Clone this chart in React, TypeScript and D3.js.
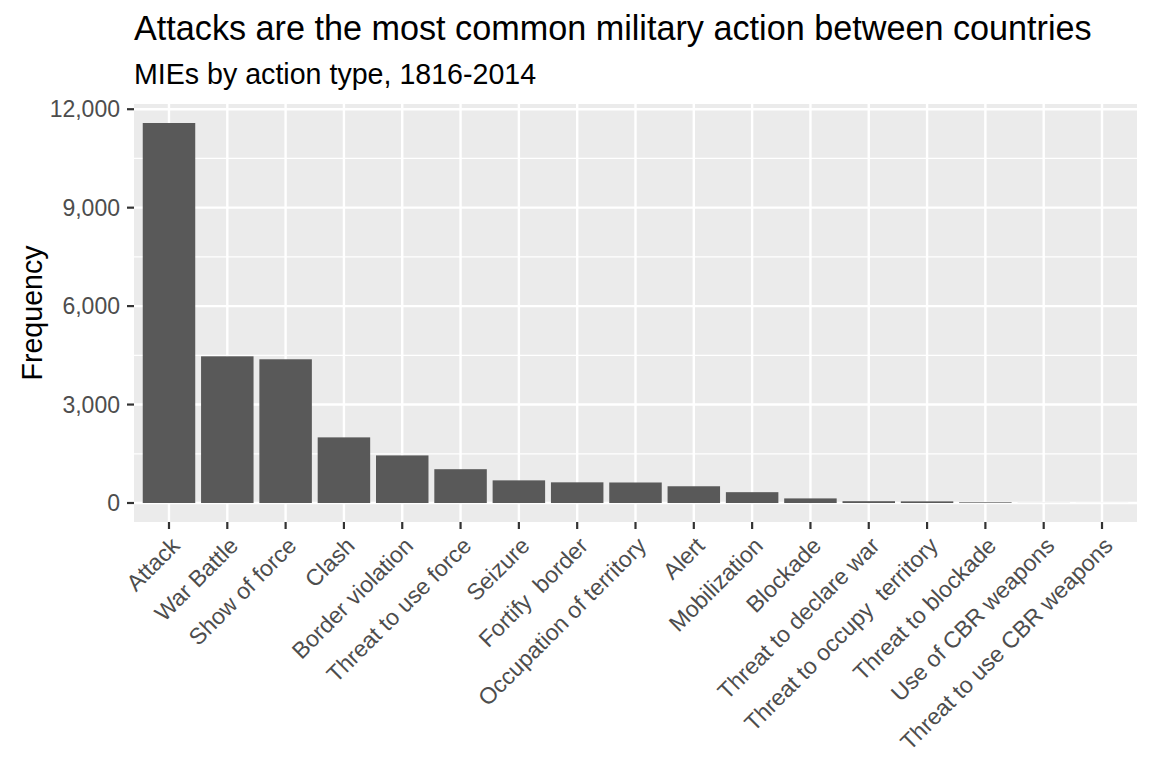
import React from 'react';
import * as d3 from 'd3';

const categories = [
  'Attack',
  'War Battle',
  'Show of force',
  'Clash',
  'Border violation',
  'Threat to use force',
  'Seizure',
  'Fortify  border',
  'Occupation of territory',
  'Alert',
  'Mobilization',
  'Blockade',
  'Threat to declare war',
  'Threat to occupy  territory',
  'Threat to blockade',
  'Use of CBR weapons',
  'Threat to use CBR weapons',
];
const counts = [11580, 4470, 4380, 2000, 1450, 1030, 690, 630, 625, 510, 330, 140, 55, 50, 20, 2, 1];
const yTicks = [0, 3000, 6000, 9000, 12000];
const yMinor = [1500, 4500, 7500, 10500];

const title = 'Attacks are the most common military action between countries';
const subtitle = 'MIEs by action type, 1816-2014';
const yTitle = 'Frequency';

const W = 1152;
const H = 768;
const panel = { left: 134, right: 1137, top: 104, bottom: 522 };

const App: React.FC = () => {
  const maxVal = d3.max(counts) as number;
  const y = d3
    .scaleLinear()
    .domain([-0.05 * maxVal, maxVal * 1.05])
    .range([panel.bottom, panel.top]);

  // discrete scale with ggplot's 0.6 expansion on each side
  const step = (panel.right - panel.left) / (categories.length - 1 + 1.2);
  const x = d3
    .scalePoint<string>()
    .domain(categories)
    .range([panel.left + 0.6 * step, panel.right - 0.6 * step]);
  const barW = step * 0.9;
  const fmt = d3.format(',');

  return (
    <svg
      width={W}
      height={H}
      style={{ position: 'absolute', left: 0, top: 0, background: '#fff' }}
      fontFamily="'Liberation Sans', Arial, sans-serif"
    >
      <text x={panel.left} y={40} fontSize={34.2} fill="#000">
        {title}
      </text>
      <text x={panel.left} y={84} fontSize={28.6} fill="#000">
        {subtitle}
      </text>

      <rect
        x={panel.left}
        y={panel.top}
        width={panel.right - panel.left}
        height={panel.bottom - panel.top}
        fill="#ebebeb"
      />
      {yMinor.map((t) => (
        <line key={'mn' + t} x1={panel.left} x2={panel.right} y1={y(t)} y2={y(t)} stroke="#fff" strokeWidth={1.2} />
      ))}
      {yTicks.map((t) => (
        <line key={'mj' + t} x1={panel.left} x2={panel.right} y1={y(t)} y2={y(t)} stroke="#fff" strokeWidth={2.4} />
      ))}
      {categories.map((c) => (
        <line key={'v' + c} x1={x(c)} x2={x(c)} y1={panel.top} y2={panel.bottom} stroke="#fff" strokeWidth={2.4} />
      ))}

      {categories.map((c, i) => (
        <rect
          key={'b' + c}
          x={(x(c) as number) - barW / 2}
          y={y(counts[i])}
          width={barW}
          height={y(0) - y(counts[i])}
          fill="#595959"
        />
      ))}

      {yTicks.map((t) => (
        <g key={'yt' + t}>
          <line x1={panel.left - 7} x2={panel.left} y1={y(t)} y2={y(t)} stroke="#333" strokeWidth={2.2} />
          <text x={panel.left - 14} y={y(t)} dy="0.36em" textAnchor="end" fontSize={23} fill="#4d4d4d">
            {fmt(t)}
          </text>
        </g>
      ))}

      {categories.map((c) => (
        <g key={'xt' + c}>
          <line x1={x(c)} x2={x(c)} y1={panel.bottom} y2={panel.bottom + 7} stroke="#333" strokeWidth={2.2} />
          <text
            transform={`translate(${x(c)},${panel.bottom + 13}) rotate(-45)`}
            dy="0.75em"
            textAnchor="end"
            fontSize={23}
            fill="#4d4d4d"
            style={{ whiteSpace: 'pre' }}
          >
            {c}
          </text>
        </g>
      ))}

      <text
        transform={`translate(42,${(panel.top + panel.bottom) / 2}) rotate(-90)`}
        textAnchor="middle"
        fontSize={28.6}
        fill="#000"
      >
        {yTitle}
      </text>
    </svg>
  );
};

export default App;
